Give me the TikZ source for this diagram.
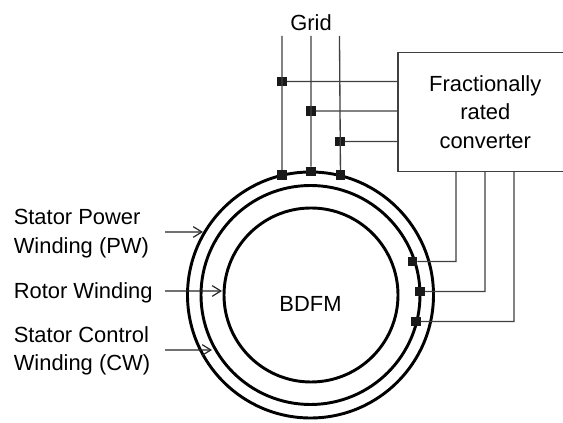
\documentclass[tikz,border=0pt]{standalone}
\usepackage{fontspec}
\setmainfont{Liberation Sans}
\usetikzlibrary{arrows.meta}
\tikzset{
  winding/.style={draw=black,line width=2.2pt},
  wire/.style={draw=black!75,line width=1pt},
  pointer/.style={draw=black!85,line width=0.9pt,-{Straight Barb[length=6.5pt,width=8pt]}},
  joint/.style={fill=black!90,inner sep=0pt,minimum size=7pt},
  txt/.style={inner sep=0pt,align=left,font=\fontsize{16.5}{21.4}\selectfont}
}
\begin{document}
\begin{tikzpicture}[scale=0.026458,yscale=-1]
\useasboundingbox (0,0) rectangle (563,423);
\fill[white] (0,0) rectangle (563,423);

% windings
\draw[winding] (310.5,295) circle (123);
\draw[winding] (310.5,295) circle (109.5);
\draw[winding] (311,295) circle (87);

% converter, its right side lies past the edge
\node[wire,txt,align=center,minimum width=131.6pt,minimum height=90pt] (conv) at (485.25,112) {Fractionally\\rated\\converter};
\coordinate (gridA) at (282,36);
\coordinate (gridB) at (311,36);
\coordinate (gridC) at (339.5,36);
\coordinate (convA) at (397.5,81.5);
\coordinate (convB) at (397.5,111);
\coordinate (convC) at (397.5,141.5);
\coordinate (outA) at (456,172);
\coordinate (outB) at (485,172);
\coordinate (outC) at (514,172);
\coordinate (cornA) at (456,261.5);
\coordinate (cornB) at (485,291.5);
\coordinate (cornC) at (514,321.5);

% joints
\node[joint] (ga) at (282,81.5) {};
\node[joint] (gb) at (311,111) {};
\node[joint] (gc) at (340,141.5) {};
\node[joint] (pa) at (282,175) {};
\node[joint] (pb) at (311,171.5) {};
\node[joint] (pc) at (340.5,175) {};
\node[joint] (ca) at (412.5,261.5) {};
\node[joint] (cb) at (420,291.5) {};
\node[joint] (cc) at (416,321.5) {};

% wires
\draw[wire] (gridA) -- (pa);
\draw[wire] (gridB) -- (pb);
\draw[wire] (gridC) -- (pc);
\draw[wire] (ga) -- (convA);
\draw[wire] (gb) -- (convB);
\draw[wire] (gc) -- (convC);
\draw[wire] (outA) -- (cornA) -- (ca);
\draw[wire] (outB) -- (cornB) -- (cb);
\draw[wire] (outC) -- (cornC) -- (cc);

% labels
\node[txt] (grid) at (311,23) {Grid};
\node[txt] (bdfm) at (310.5,304) {BDFM};
\node[txt,anchor=west] (pw) at (13.5,233.5) {Stator Power\\Winding (PW)};
\node[txt,anchor=west] (rw) at (13.5,292.5) {Rotor Winding};
\node[txt,anchor=west] (cw) at (13.5,351) {Stator Control\\Winding (CW)};

% arrows
\coordinate (pwTip) at (203,232);
\coordinate (rwTip) at (222,291);
\coordinate (cwTip) at (212,350);
\draw[pointer] (165,232) -- (pwTip);
\draw[pointer] (165,291) -- (rwTip);
\draw[pointer] (165,350) -- (cwTip);
\end{tikzpicture}
\end{document}
